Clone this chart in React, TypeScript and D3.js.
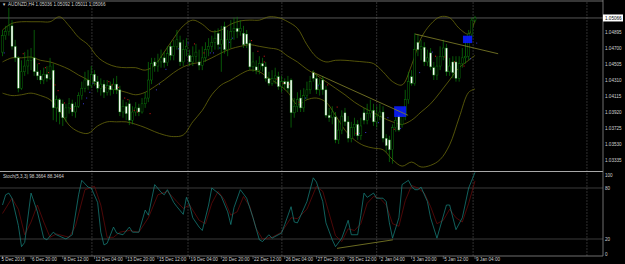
import React from "react";
import * as d3 from "d3";

const W = 625;
const H = 264;

const OPEN = [1.0465,1.0485,1.0490,1.0497,1.0472,1.0458,1.0421,1.0441,1.0448,1.0455,1.0458,1.0441,1.0436,1.0431,1.0438,1.0433,1.0443,1.0397,1.0407,1.0402,1.0385,1.0397,1.0402,1.0392,1.0399,1.0412,1.0421,1.0431,1.0424,1.0438,1.0429,1.0421,1.0426,1.0416,1.0424,1.0419,1.0426,1.0419,1.0392,1.0399,1.0402,1.0382,1.0392,1.0397,1.0392,1.0402,1.0409,1.0431,1.0453,1.0448,1.0453,1.0458,1.0452,1.0472,1.0461,1.0472,1.0477,1.0453,1.0468,1.0461,1.0453,1.0460,1.0453,1.0449,1.0458,1.0468,1.0472,1.0477,1.0488,1.0474,1.0496,1.0468,1.0480,1.0490,1.0494,1.0490,1.0488,1.0487,1.0476,1.0447,1.0447,1.0443,1.0451,1.0447,1.0433,1.0427,1.0433,1.0435,1.0423,1.0429,1.0429,1.0431,1.0391,1.0399,1.0409,1.0397,1.0412,1.0419,1.0440,1.0433,1.0419,1.0431,1.0419,1.0388,1.0385,1.0386,1.0358,1.0370,1.0391,1.0380,1.0360,1.0373,1.0377,1.0363,1.0391,1.0382,1.0390,1.0394,1.0380,1.0387,1.0392,1.0360,1.0358,1.0346,1.0373,1.0388,1.0377,1.0387,1.0407,1.0435,1.0427,1.0477,1.0468,1.0471,1.0453,1.0464,1.0446,1.0437,1.0448,1.0460,1.0470,1.0441,1.0453,1.0453,1.0433,1.0451,1.0458,1.0460,1.0487,1.05036];
const HIGH = [1.0492,1.0497,1.0519,1.0504,1.0480,1.0460,1.0455,1.0465,1.0468,1.0470,1.0492,1.0451,1.0443,1.0446,1.0448,1.0458,1.0451,1.0412,1.0409,1.0407,1.0402,1.0409,1.0407,1.0404,1.0416,1.0429,1.0441,1.0443,1.0448,1.0443,1.0436,1.0433,1.0431,1.0431,1.0429,1.0433,1.0436,1.0424,1.0407,1.0404,1.0407,1.0399,1.0404,1.0402,1.0409,1.0416,1.0453,1.0458,1.0458,1.0463,1.0468,1.0465,1.0472,1.0477,1.0480,1.0492,1.0485,1.0480,1.0482,1.0468,1.0472,1.0475,1.0468,1.0472,1.0477,1.0482,1.0485,1.0492,1.0494,1.0497,1.0502,1.0492,1.0504,1.0507,1.0508,1.0504,1.0497,1.0492,1.0480,1.0465,1.0455,1.0460,1.0458,1.0453,1.0441,1.0443,1.0446,1.0441,1.0436,1.0433,1.0436,1.0433,1.0409,1.0416,1.0419,1.0421,1.0429,1.0436,1.0443,1.0438,1.0433,1.0436,1.0424,1.0397,1.0399,1.0392,1.0382,1.0394,1.0397,1.0387,1.0380,1.0385,1.0382,1.0385,1.0397,1.0402,1.0407,1.0402,1.0399,1.0402,1.0399,1.0365,1.0363,1.0377,1.0392,1.0394,1.0397,1.0419,1.0441,1.0443,1.0488,1.0487,1.0480,1.0477,1.0468,1.0470,1.0453,1.0460,1.0472,1.0480,1.0475,1.0458,1.0460,1.0460,1.0460,1.0470,1.0480,1.0492,1.0507,1.05092];
const LOW = [1.0460,1.0480,1.0485,1.0468,1.0453,1.0416,1.0419,1.0436,1.0438,1.0443,1.0436,1.0431,1.0426,1.0426,1.0429,1.0431,1.0382,1.0380,1.0377,1.0375,1.0380,1.0390,1.0387,1.0385,1.0397,1.0407,1.0416,1.0419,1.0421,1.0424,1.0416,1.0412,1.0409,1.0412,1.0412,1.0414,1.0414,1.0387,1.0385,1.0382,1.0376,1.0377,1.0387,1.0387,1.0390,1.0397,1.0404,1.0426,1.0441,1.0441,1.0446,1.0446,1.0448,1.0455,1.0455,1.0468,1.0448,1.0448,1.0460,1.0448,1.0448,1.0453,1.0443,1.0443,1.0453,1.0460,1.0465,1.0468,1.0468,1.0441,1.0463,1.0460,1.0470,1.0480,1.0482,1.0485,1.0470,1.0470,1.0443,1.0441,1.0438,1.0438,1.0441,1.0429,1.0424,1.0424,1.0426,1.0419,1.0416,1.0419,1.0416,1.0373,1.0385,1.0392,1.0392,1.0392,1.0407,1.0414,1.0429,1.0414,1.0412,1.0413,1.0385,1.0380,1.0377,1.0354,1.0353,1.0365,1.0375,1.0355,1.0355,1.0363,1.0358,1.0358,1.0377,1.0377,1.0385,1.0375,1.0373,1.0382,1.0355,1.0343,1.0331,1.0329,1.0368,1.0368,1.0373,1.0382,1.0402,1.0424,1.0424,1.0460,1.0455,1.0448,1.0448,1.0443,1.0431,1.0431,1.0443,1.0455,1.0436,1.0436,1.0433,1.0429,1.0429,1.0446,1.0451,1.0455,1.0482,1.05011];
const CLOSE = [1.0485,1.0490,1.0497,1.0472,1.0458,1.0421,1.0441,1.0448,1.0455,1.0458,1.0441,1.0436,1.0431,1.0438,1.0433,1.0448,1.0397,1.0407,1.0392,1.0385,1.0397,1.0402,1.0392,1.0399,1.0412,1.0421,1.0431,1.0424,1.0438,1.0429,1.0421,1.0426,1.0416,1.0424,1.0419,1.0426,1.0419,1.0392,1.0399,1.0390,1.0382,1.0392,1.0397,1.0392,1.0402,1.0409,1.0431,1.0451,1.0448,1.0453,1.0458,1.0452,1.0463,1.0461,1.0472,1.0480,1.0453,1.0468,1.0472,1.0453,1.0460,1.0465,1.0449,1.0458,1.0468,1.0472,1.0477,1.0482,1.0474,1.0480,1.0468,1.0480,1.0490,1.0494,1.0490,1.0494,1.0474,1.0475,1.0447,1.0453,1.0443,1.0451,1.0448,1.0433,1.0427,1.0433,1.0436,1.0423,1.0429,1.0426,1.0421,1.0391,1.0399,1.0407,1.0397,1.0412,1.0419,1.0429,1.0433,1.0419,1.0426,1.0419,1.0388,1.0385,1.0392,1.0358,1.0370,1.0387,1.0380,1.0360,1.0373,1.0377,1.0363,1.0375,1.0382,1.0390,1.0394,1.0380,1.0387,1.0392,1.0360,1.0351,1.0346,1.0373,1.0382,1.0370,1.0387,1.0407,1.0429,1.0427,1.0468,1.0468,1.0472,1.0453,1.0458,1.0447,1.0437,1.0448,1.0460,1.0470,1.0441,1.0448,1.0440,1.0433,1.0451,1.0458,1.0460,1.0487,1.0504,1.05066];

// Bollinger Bands (20, 2) read at every third bar
const BB_IDX = [0,3,6,9,12,15,18,21,24,27,30,33,36,39,42,45,48,51,54,57,60,63,66,69,72,75,78,81,84,87,90,93,96,99,102,105,108,111,114,117,120,123,126,129,132,135,138,141,144,147,149];
const BB_UPPER = [1.0492,1.0500,1.0502,1.0502,1.0502,1.0502,1.0508,1.0497,1.0483,1.0474,1.0459,1.0451,1.0447,1.0446,1.0446,1.0443,1.0449,1.0465,1.0482,1.0497,1.0504,1.0499,1.0490,1.0492,1.0499,1.0503,1.0504,1.0504,1.0508,1.0507,1.0502,1.0494,1.0474,1.0459,1.0453,1.0455,1.0455,1.0454,1.0453,1.0451,1.0441,1.0429,1.0425,1.0449,1.0482,1.0499,1.0508,1.0507,1.0494,1.0487,1.0504];
const BB_MIDDLE = [1.0453,1.0458,1.0458,1.0459,1.0455,1.0453,1.0449,1.0444,1.0437,1.0431,1.0425,1.0421,1.0419,1.0416,1.0413,1.0416,1.0423,1.0431,1.0440,1.0447,1.0451,1.0453,1.0458,1.0464,1.0469,1.0472,1.0474,1.0472,1.0470,1.0468,1.0460,1.0453,1.0444,1.0437,1.0429,1.0421,1.0413,1.0404,1.0397,1.0391,1.0385,1.0380,1.0377,1.0382,1.0392,1.0402,1.0416,1.0431,1.0446,1.0455,1.0461];
const BB_LOWER = [1.0415,1.0412,1.0413,1.0415,1.0412,1.0407,1.0394,1.0376,1.0368,1.0366,1.0375,1.0380,1.0380,1.0380,1.0377,1.0373,1.0368,1.0364,1.0362,1.0364,1.0380,1.0394,1.0413,1.0425,1.0431,1.0438,1.0443,1.0441,1.0433,1.0426,1.0416,1.0401,1.0407,1.0409,1.0404,1.0388,1.0370,1.0358,1.0351,1.0348,1.0346,1.0334,1.0326,1.0331,1.0325,1.0327,1.0334,1.0352,1.0385,1.0416,1.0420];

// Stochastic (5,3,3): main line vertices and signal line vertices
const STOCH_K_IDX = [0,1,2,3,5,6,7,9,11,13,14,16,17,20,22,24,25,27,28,30,31,32,33,35,36,38,40,41,43,45,46,48,50,51,52,54,55,57,58,59,60,62,63,65,66,68,69,71,72,73,75,77,79,81,82,84,85,88,89,91,92,93,96,98,99,101,102,104,105,107,109,110,112,113,114,115,117,118,120,121,122,123,125,126,128,129,130,131,132,134,135,137,140,141,143,145,147,149];
const STOCH_K = [60,72,74,68,36,11,16,74,52,21,19,28,25,20,25,72,89,81,80,63,28,13,15,34,27,25,34,28,28,54,48,84,75,72,78,63,58,49,69,60,45,34,30,60,80,74,70,52,37,57,78,68,45,19,17,25,21,27,37,58,40,39,64,92,87,64,39,19,11,21,42,25,25,48,74,69,74,68,68,64,39,21,45,84,89,82,78,78,81,64,45,21,60,60,31,45,80,98.37];
const STOCH_D_IDX = [0,3,5,7,9,11,13,15,17,21,23,26,29,31,33,35,37,40,43,46,49,52,55,57,59,62,64,66,68,70,72,74,76,78,80,82,85,88,91,93,96,99,101,103,105,107,109,111,113,115,117,119,121,123,125,127,129,131,133,135,137,139,141,143,145,147,149];
const STOCH_D = [50,68,55,25,40,60,40,22,26,22,35,78,82,60,22,22,28,30,28,45,72,76,64,56,60,42,38,62,76,66,48,52,70,58,32,20,22,28,45,44,55,82,76,50,24,17,32,30,38,62,70,68,60,38,35,65,83,80,74,58,38,42,55,45,40,62,88.35];

// small indicator dots (bar, price)
const RED_DOT_BARS = [6,11,13,14,16,17,19,21,33,34,36,38,39,41,42,46,60,63,78,80,82,82,86,88,90,93,102,105,111,123,136,139,142,145];
const RED_DOT_PRICES = [1.0463,1.0451,1.0446,1.0440,1.0425,1.0418,1.0403,1.0396,1.0429,1.0425,1.0422,1.0409,1.0407,1.0394,1.0392,1.0390,1.0475,1.0464,1.0479,1.0466,1.0460,1.0453,1.0432,1.0427,1.0426,1.0404,1.0425,1.0398,1.0366,1.0371,1.0460,1.0459,1.0453,1.0448];
const BLUE_DOT_BARS = [0,28,26,25,27,49,48,51,55,58,65,66,68,71,72,95,99,112,114,118,121,125,131,135,147,149];
const BLUE_DOT_PRICES = [1.0464,1.0427,1.0409,1.0402,1.0416,1.0426,1.0419,1.0444,1.0469,1.0476,1.0464,1.0464,1.0470,1.0477,1.0482,1.0409,1.0424,1.0366,1.0367,1.0379,1.0385,1.0372,1.0440,1.0465,1.0457,1.0476];

const PRICE_TICKS = [1.04895,1.047,1.04505,1.0431,1.04115,1.0392,1.03725,1.0353,1.03335];
const STOCH_LEVELS = [80, 20];
const STOCH_TICKS = [100, 80, 20, 0];
const LAST_PRICE = 1.05066;

const TIME_LABELS = ["5 Dec 2016","6 Dec 20:00","8 Dec 12:00","12 Dec 04:00","13 Dec 20:00","15 Dec 12:00","19 Dec 04:00","20 Dec 20:00","22 Dec 12:00","26 Dec 04:00","27 Dec 20:00","29 Dec 12:00","2 Jan 04:00","3 Jan 20:00","5 Jan 12:00","9 Jan 04:00"];
const TIME_LABEL_BARS = [0,9,19,29,39,49,59,69,79,89,99,109,119,129,139,149];
const GRID_BARS = [28.2,58.5,88.1,118,148.4,184.3];

// drawn objects: trend lines [bar, price, bar, price] and rectangles
const TRENDLINES = [[97.6,1.0441,127.9,1.0388],[130.1,1.0487,156.3,1.0463]];
const STOCH_TRENDLINE = [105.5, 9, 123.1, 19];
const RECTS = [[123.5,1.0399,127.3,1.0386],[145.2,1.0485,148.1,1.0476]];

const FONT = "'Liberation Sans', Arial, sans-serif";
const TXT = "#d0d0d0";
const OLIVE = "#6f6f0c";
const CANDLE = "#0b7d0b";

export default function App() {
  const x = d3.scaleLinear().domain([0, 149]).range([2.5, 475]);
  const yP = d3.scaleLinear().domain([1.03335, 1.04895]).range([160, 32]);
  const yS = d3.scaleLinear().domain([0, 100]).range([256, 171]);
  const axisX = 603;

  const band = (vals: number[]) =>
    d3.line<number>().x((_, k) => x(BB_IDX[k])).y((v) => yP(v)).curve(d3.curveCatmullRom)(vals) || "";
  const stochLine = (idx: number[], vals: number[]) =>
    d3.line<number>().x((_, k) => x(idx[k])).y((v) => yS(v))(vals) || "";

  const fmt = d3.format(".5f");

  return (
    <div style={{ position: "absolute", left: 0, top: 0 }}>
      <svg width={W} height={H} style={{ display: "block", background: "#000" }}>
        <defs>
          <clipPath id="mainClip">
            <rect x={0} y={2} width={axisX} height={169} />
          </clipPath>
          <clipPath id="subClip">
            <rect x={0} y={172} width={axisX} height={84} />
          </clipPath>
        </defs>
        <rect x={0} y={0} width={W} height={H} fill="#000" />

        {/* vertical grid */}
        {GRID_BARS.map((g, k) => (
          <line key={"g" + k} x1={x(g)} x2={x(g)} y1={2} y2={256} stroke="#444" strokeWidth={0.7} strokeDasharray="2,1" />
        ))}
        {/* stoch levels */}
        {STOCH_LEVELS.map((v) => (
          <line key={"lv" + v} x1={0} x2={axisX} y1={yS(v)} y2={yS(v)} stroke="#555" strokeWidth={0.7} />
        ))}

        {/* bid line */}
        <line x1={0} x2={axisX} y1={yP(LAST_PRICE)} y2={yP(LAST_PRICE)} stroke="#7a7a7a" strokeWidth={0.7} />

        <g clipPath="url(#mainClip)">
          {/* Bollinger bands */}
          <path d={band(BB_UPPER)} fill="none" stroke={OLIVE} strokeWidth={0.75} />
          <path d={band(BB_MIDDLE)} fill="none" stroke={OLIVE} strokeWidth={0.75} />
          <path d={band(BB_LOWER)} fill="none" stroke={OLIVE} strokeWidth={0.75} />

          {/* candles */}
          {CLOSE.map((c, i) => {
            const o = OPEN[i];
            const bull = c >= o;
            const cx = x(i);
            const top = yP(Math.max(o, c));
            const bot = yP(Math.min(o, c));
            return (
              <g key={"c" + i}>
                <line x1={cx} x2={cx} y1={yP(HIGH[i])} y2={yP(LOW[i])} stroke={CANDLE} strokeWidth={0.7} />
                <rect x={cx - 1} y={top} width={2} height={Math.max(0.6, bot - top)} fill={bull ? "#000" : "#ffffff"} stroke={CANDLE} strokeWidth={0.45} />
              </g>
            );
          })}

          {/* indicator dots */}
          {RED_DOT_BARS.map((b, k) => (
            <rect key={"rd" + k} x={x(b) + 1.2} y={yP(RED_DOT_PRICES[k]) - 0.5} width={1} height={1} fill="#e01818" />
          ))}
          {BLUE_DOT_BARS.map((b, k) => (
            <rect key={"bd" + k} x={x(b) + 1.2} y={yP(BLUE_DOT_PRICES[k]) - 0.5} width={1} height={1} fill="#3a3ad8" />
          ))}

          {/* rectangles */}
          {RECTS.map((r, k) => (
            <rect key={"r" + k} x={x(r[0])} y={yP(r[1])} width={x(r[2]) - x(r[0])} height={yP(r[3]) - yP(r[1])} fill="#0a1cff" opacity={0.9} />
          ))}

          {/* trend lines */}
          {TRENDLINES.map((t, k) => (
            <line key={"t" + k} x1={x(t[0])} y1={yP(t[1])} x2={x(t[2])} y2={yP(t[3])} stroke="#85852a" strokeWidth={0.8} />
          ))}
        </g>

        <g clipPath="url(#subClip)">
          <path d={stochLine(STOCH_D_IDX, STOCH_D)} fill="none" stroke="#6e0c0c" strokeWidth={0.7} />
          <path d={stochLine(STOCH_K_IDX, STOCH_K)} fill="none" stroke="#188a84" strokeWidth={0.7} />
          <line x1={x(STOCH_TRENDLINE[0])} y1={yS(STOCH_TRENDLINE[1])} x2={x(STOCH_TRENDLINE[2])} y2={yS(STOCH_TRENDLINE[3])} stroke="#85852a" strokeWidth={0.8} />
        </g>

        {/* frame */}
        <line x1={0} x2={axisX} y1={1} y2={1} stroke="#8a8a8a" strokeWidth={0.8} />
        <line x1={0} x2={axisX} y1={171.5} y2={171.5} stroke="#a8a8a8" strokeWidth={1} />
        <line x1={0} x2={axisX} y1={256} y2={256} stroke="#8a8a8a" strokeWidth={0.8} />
        <line x1={axisX} x2={axisX} y1={0} y2={256} stroke="#8a8a8a" strokeWidth={0.8} />

        {/* price axis */}
        {PRICE_TICKS.map((t) => (
          <text key={"p" + t} x={605} y={yP(t) + 1.6} fontSize={4.6} fontFamily={FONT} fill={TXT}>{fmt(t)}</text>
        ))}
        <rect x={603} y={yP(LAST_PRICE) - 3.5} width={20} height={7} fill="#ffffff" />
        <text x={605} y={yP(LAST_PRICE) + 1.6} fontSize={4.6} fontFamily={FONT} fill="#000">{fmt(LAST_PRICE)}</text>

        {/* stoch axis */}
        {STOCH_TICKS.map((v) => (
          <text key={"s" + v} x={605} y={v === 100 ? yS(v) + 5.5 : v === 0 ? yS(v) - 0.5 : yS(v) + 1.6} fontSize={4.6} fontFamily={FONT} fill={TXT}>{v}</text>
        ))}

        {/* time axis */}
        {TIME_LABEL_BARS.map((b, k) => (
          <g key={"tl" + k}>
            <line x1={x(b)} x2={x(b)} y1={256} y2={259} stroke="#8a8a8a" strokeWidth={0.6} />
            <text x={k === 0 ? 1.5 : x(b) + 1} y={261} fontSize={4.6} fontFamily={FONT} fill={TXT}>{TIME_LABELS[k]}</text>
          </g>
        ))}

        {/* titles */}
        <text x={2} y={5.8} fontSize={4.2} fontFamily={FONT} fill={TXT}>▼</text>
        <text x={8} y={5.8} fontSize={4.6} fontFamily={FONT} fill={TXT}>
          {"AUDNZD,H4  " + [OPEN[149], HIGH[149], LOW[149], CLOSE[149]].map(fmt).join(" ")}
        </text>
        <text x={3} y={177.5} fontSize={4.6} fontFamily={FONT} fill={TXT}>Stoch(5,3,3) 98.3664 88.3464</text>
      </svg>
    </div>
  );
}
